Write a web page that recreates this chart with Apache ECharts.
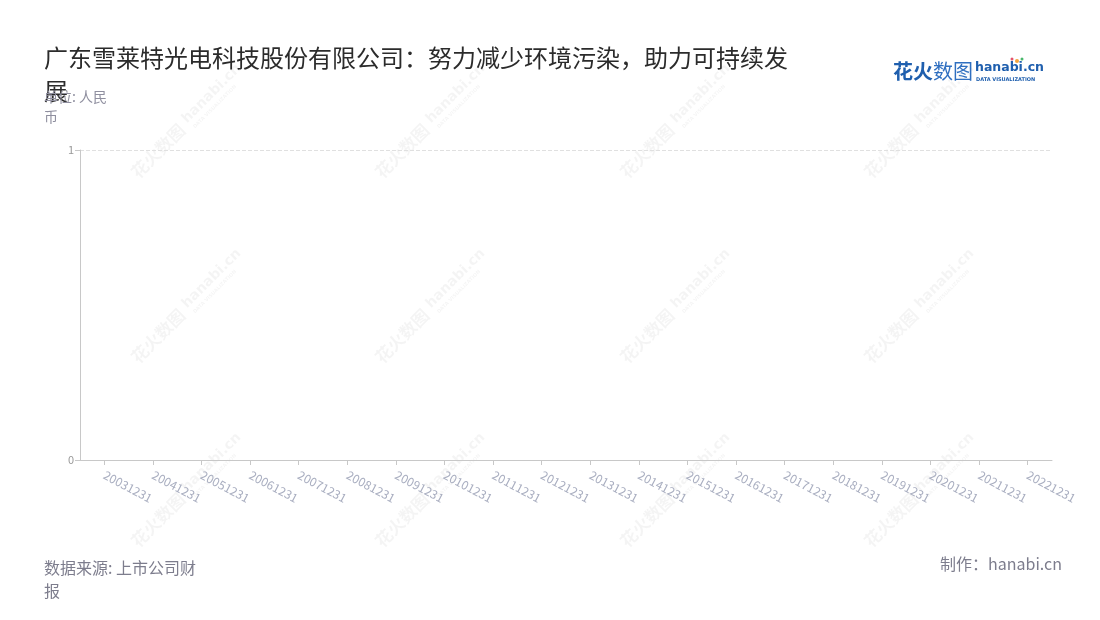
<!DOCTYPE html>
<html>
<head>
<meta charset="utf-8">
<script src="https://cdn.jsdelivr.net/npm/echarts@6/dist/echarts.min.js"></script>
<style>
html,body{margin:0;padding:0;background:#fff;}
#main{width:1100px;height:620px;}
</style>
</head>
<body>
<div id="main"></div>
<script>
const categories = ['20031231','20041231','20051231','20061231','20071231','20081231','20091231','20101231','20111231','20121231','20131231','20141231','20151231','20161231','20171231','20181231','20191231','20201231','20211231','20221231'];
const values = [];
const yTicks = [0, 1];
const titleText = '广东雪莱特光电科技股份有限公司：努力减少环境污染，助力可持续发展';
const unitText = '单位: 人民币';
const sourceText = '数据来源: 上市公司财报';
const makerText = '制作：hanabi.cn';

const FONT = '"Noto Sans CJK SC","Noto Sans",sans-serif';
const chart = echarts.init(document.getElementById('main'));

const graphics = [];
// watermarks
const wmCols = [183, 427, 672, 916];
const wmRows = [128, 313, 497];
const wmColor = 'rgba(0,0,0,0.045)';
wmRows.forEach(function (cy) {
  wmCols.forEach(function (cx) {
    graphics.push({
      type: 'group', x: cx, y: cy, rotation: Math.PI / 4, silent: true, z: -1,
      children: [
        { type: 'text', x: -68, y: -10, style: { text: '花火数图', fill: wmColor, font: 'bold 17px ' + FONT } },
        { type: 'text', x: 6, y: -11, style: { text: 'hanabi.cn', fill: wmColor, font: 'bold 14px "DejaVu Sans",sans-serif' } },
        { type: 'text', x: 8, y: 5, style: { text: 'DATA VISUALIZATION', fill: wmColor, font: 'bold 5px "DejaVu Sans",sans-serif' } }
      ]
    });
  });
});
// logo
graphics.push(
  { type: 'text', left: 893, top: 61, style: { text: '花火', fill: '#1f5fae', font: 'bold 20px ' + FONT } },
  { type: 'text', left: 933, top: 61, style: { text: '数图', fill: '#2f6fc0', font: '20px ' + FONT } },
  { type: 'text', left: 975, top: 61, style: { text: 'hanabi.cn', fill: '#1f5fae', font: 'bold 12.5px "DejaVu Sans",sans-serif' } },
  { type: 'text', left: 976, top: 77, style: { text: 'DATA VISUALIZATION', fill: '#1f5fae', font: 'bold 5px "DejaVu Sans",sans-serif' } },
  { type: 'circle', shape: { cx: 1017, cy: 61, r: 2 }, style: { fill: '#f3a33c' } },
  { type: 'circle', shape: { cx: 1012, cy: 59, r: 1.5 }, style: { fill: '#e4546b' } },
  { type: 'circle', shape: { cx: 1022, cy: 59, r: 1.5 }, style: { fill: '#49b86b' } }
);

chart.setOption({
  backgroundColor: '#fff',
  textStyle: { fontFamily: FONT },
  title: [
    { text: titleText, left: 39, top: 36,
      textStyle: { fontSize: 24, fontWeight: 'normal', color: '#2b2b2b', width: 750, overflow: 'break', lineHeight: 33, fontFamily: FONT } },
    { text: unitText, left: 39, top: 82,
      textStyle: { fontSize: 14, fontWeight: 'normal', color: '#8f8f9f', width: 72, overflow: 'break', lineHeight: 20, fontFamily: FONT } },
    { text: sourceText, left: 39, top: 551,
      textStyle: { fontSize: 16, fontWeight: 'normal', color: '#7d7d8d', width: 172, overflow: 'break', lineHeight: 23, fontFamily: FONT } },
    { text: makerText, right: 33, top: 551,
      textStyle: { fontSize: 16, fontWeight: 'normal', color: '#7d7d8d', fontFamily: FONT } }
  ],
  grid: { left: 80, right: 48, top: 150, bottom: 160, containLabel: false },
  xAxis: {
    type: 'category',
    data: categories,
    boundaryGap: true,
    axisLine: { show: true, lineStyle: { color: '#c8c8c8' } },
    axisTick: { show: true, alignWithLabel: true, lineStyle: { color: '#c8c8c8' } },
    axisLabel: { rotate: -28, interval: 0, color: '#a9aec0', fontSize: 12, margin: 14, fontFamily: FONT }
  },
  yAxis: {
    type: 'value',
    min: yTicks[0],
    max: yTicks[yTicks.length - 1],
    interval: 1,
    axisLine: { show: true, lineStyle: { color: '#c8c8c8' } },
    axisTick: { show: true, lineStyle: { color: '#c8c8c8' } },
    axisLabel: { color: '#999', fontSize: 11, margin: 6 },
    splitLine: { show: true, lineStyle: { color: '#e0e0e0', type: 'dashed' } }
  },
  series: [{ type: 'bar', data: values }],
  graphic: graphics
});
</script>
</body>
</html>
